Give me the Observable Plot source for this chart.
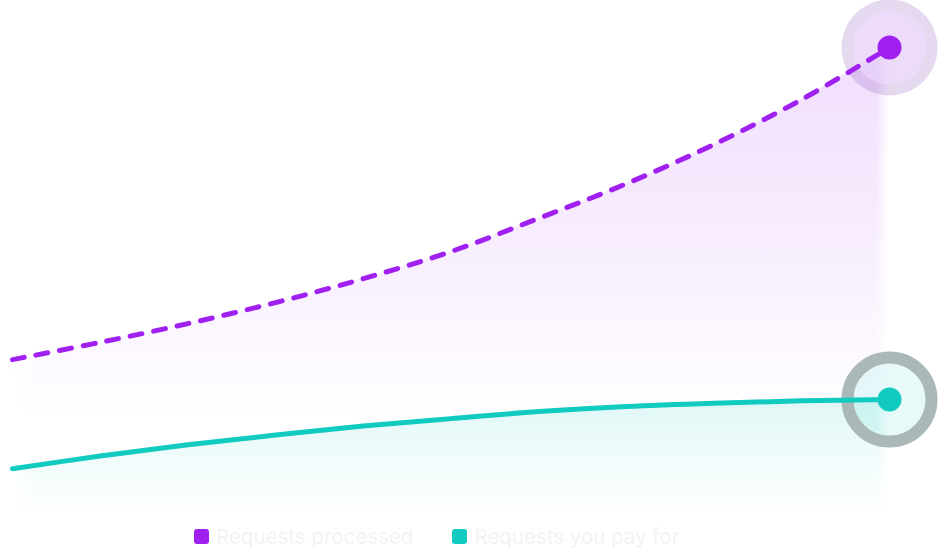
<!DOCTYPE html>
<html>
<head>
<meta charset="utf-8">
<script src="https://cdn.jsdelivr.net/npm/d3@7"></script>
<script src="https://cdn.jsdelivr.net/npm/@observablehq/plot@0.6"></script>
<style>
  html, body { margin: 0; padding: 0; background: #ffffff; }
  #wrap { position: relative; width: 938px; height: 552px; overflow: hidden; }
  #legend {
    position: absolute; left: 194px; top: 522px; height: 28px;
    display: flex; align-items: center;
    font-family: Inter, "Noto Sans", sans-serif; font-size: 20.5px; color: #f3f3f3;
  }
  .item { display: flex; align-items: center; margin-right: 39px; }
  .sw { width: 15px; height: 15px; border-radius: 3px; margin-right: 7px; }
</style>
</head>
<body>
<div id="wrap"><div id="chart"></div><div id="legend"></div></div>
<script>
// Time steps (x) and series values (y)
const steps = [0, 10, 20, 30, 40, 50, 60, 70, 80, 90, 100];
const processed = [33.3, 37.0, 41.0, 45.5, 50.6, 56.4, 63.5, 70.9, 79.3, 88.9, 100];
const payFor = [10.0, 12.7, 15.1, 17.2, 19.1, 20.7, 22.2, 23.3, 24.0, 24.5, 24.8];
const seriesNames = ["Requests processed", "Requests you pay for"];
const seriesColors = ["#a020f0", "#12cbc0"];

const procData = steps.map((x, i) => ({x, y: processed[i]}));
const payData = steps.map((x, i) => ({x, y: payFor[i]}));
const procLast = [procData[procData.length - 1]];
const payLast = [payData[payData.length - 1]];

const svg = Plot.plot({
  width: 938,
  height: 520,
  margin: 0,
  x: {domain: [0, 100], range: [12, 889], axis: null},
  y: {domain: [0, 100], range: [515, 47], axis: null},
  marks: [
    Plot.areaY(procData, {x: "x", y: "y", fill: "url(#gradPurple)", curve: "catmull-rom"}),
    Plot.areaY(payData, {x: "x", y: "y", fill: "url(#gradTeal)", curve: "catmull-rom"}),
    // purple halo
    Plot.dot(procLast, {x: "x", y: "y", r: 48, fill: "#7d3fb0", fillOpacity: 0.2}),
    Plot.dot(procLast, {x: "x", y: "y", r: 37, fill: "#f0dcff", fillOpacity: 0.6}),
    // teal ring
    Plot.dot(payLast, {x: "x", y: "y", r: 42, fill: seriesColors[1], fillOpacity: 0.1,
      stroke: "#aab9b7", strokeWidth: 12}),
    Plot.line(procData, {x: "x", y: "y", stroke: seriesColors[0], strokeWidth: 5,
      strokeDasharray: "12,12", strokeLinecap: "round", curve: "catmull-rom"}),
    Plot.line(payData, {x: "x", y: "y", stroke: seriesColors[1], strokeWidth: 5,
      strokeLinecap: "round", curve: "catmull-rom"}),
    Plot.dot(procLast, {x: "x", y: "y", r: 12, fill: seriesColors[0]}),
    Plot.dot(payLast, {x: "x", y: "y", r: 12, fill: seriesColors[1]})
  ]
});

const defs = d3.select(svg).insert("defs", ":first-child");
defs.html(`
  <linearGradient id="gradPurple" x1="0" y1="0" x2="0" y2="1">
    <stop offset="0" stop-color="#a020f0" stop-opacity="0.15"/>
    <stop offset="0.35" stop-color="#a020f0" stop-opacity="0.09"/>
    <stop offset="0.8" stop-color="#a020f0" stop-opacity="0"/>
  </linearGradient>
  <linearGradient id="gradTeal" x1="0" y1="0" x2="0" y2="1">
    <stop offset="0" stop-color="#12cbc0" stop-opacity="0.13"/>
    <stop offset="1" stop-color="#12cbc0" stop-opacity="0"/>
  </linearGradient>
  <linearGradient id="fadeX" x1="0" y1="0" x2="1" y2="0">
    <stop offset="0" stop-color="#fff" stop-opacity="0"/>
    <stop offset="0.03" stop-color="#fff" stop-opacity="1"/>
    <stop offset="0.985" stop-color="#fff" stop-opacity="1"/>
    <stop offset="1" stop-color="#fff" stop-opacity="0"/>
  </linearGradient>
  <mask id="edgeMask" maskContentUnits="objectBoundingBox">
    <rect x="0" y="0" width="1" height="1" fill="url(#fadeX)"/>
  </mask>
`);
d3.select(svg).selectAll("g[aria-label='area']").attr("mask", "url(#edgeMask)");

document.getElementById("chart").appendChild(svg);

const legend = d3.select("#legend");
seriesNames.forEach((name, i) => {
  const it = legend.append("div").attr("class", "item");
  it.append("div").attr("class", "sw").style("background", seriesColors[i]);
  it.append("span").text(name);
});
</script>
</body>
</html>
